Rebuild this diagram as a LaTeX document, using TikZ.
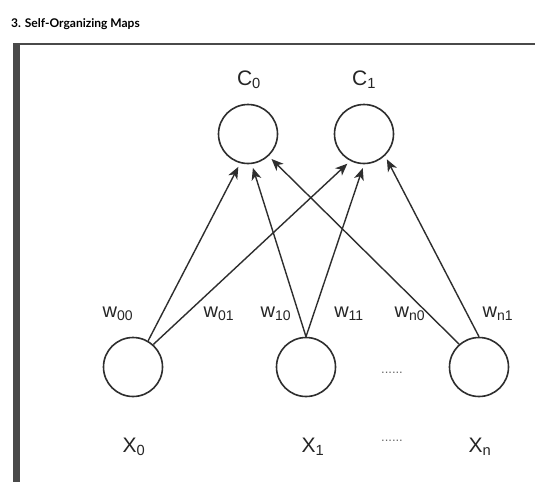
\documentclass[tikz,border=0pt]{standalone}
\usepackage{fontspec}
\setmainfont{Liberation Sans}
\newfontfamily\titlefont{Lato}
\usetikzlibrary{arrows.meta}
\definecolor{linec}{HTML}{2E2E2E}
\definecolor{textc}{HTML}{262626}
\definecolor{barc}{HTML}{4A4A4A}
\begin{document}
\begin{tikzpicture}[x=1pt,y=-1pt,
  neuron/.style={circle,draw=linec,line width=1.6pt,minimum size=59pt,inner sep=0pt},
  conn/.style={draw=linec,line width=1.4pt,-{Stealth[length=12pt,width=10pt,inset=3.5pt]},shorten >=4pt},
  lbl/.style={anchor=base,font=\fontsize{21}{24}\selectfont,text=textc,inner sep=0pt},
  wlbl/.style={anchor=base,font=\fontsize{20}{23}\selectfont,text=textc,inner sep=0pt},
  dotlbl/.style={anchor=base,font=\fontsize{13}{16}\selectfont,text=textc!70,inner sep=0pt}]
\useasboundingbox (0,0) rectangle (535,491);
\fill[white] (0,0) rectangle (535,491);
% page frame pieces
\fill[barc] (13,44) rectangle (20,482);
\draw[barc,line width=2pt] (13,44) -- (535,44);
\node[anchor=base west,inner sep=0pt,font=\titlefont\bfseries\fontsize{12}{14}\selectfont,text=black] (title) at (11,27) {3. Self-Organizing Maps};
% neurons
\node[neuron] (C0) at (248,134) {};
\node[neuron] (C1) at (364,134) {};
\node[neuron] (X0) at (133,367) {};
\node[neuron] (X1) at (306,367) {};
\node[neuron] (Xn) at (479,367) {};
% labels
\node[lbl] (lC0) at (249,85) {C\textsubscript{0}};
\node[lbl] (lC1) at (364,85) {C\textsubscript{1}};
\node[lbl] (lX0) at (134,452) {X\textsubscript{0}};
\node[lbl] (lX1) at (313,452) {X\textsubscript{1}};
\node[lbl] (lXn) at (480,452) {X\textsubscript{n}};
\node[dotlbl] (d1) at (392,373) {......};
\node[dotlbl] (d2) at (392,441) {......};
% weights
\node[wlbl] (w00) at (118,317) {w\textsubscript{00}};
\node[wlbl] (w01) at (219,317) {w\textsubscript{01}};
\node[wlbl] (w10) at (276,317) {w\textsubscript{10}};
\node[wlbl] (w11) at (349,317) {w\textsubscript{11}};
\node[wlbl] (wn0) at (410,317) {w\textsubscript{n0}};
\node[wlbl] (wn1) at (498,317) {w\textsubscript{n1}};
% connections
\draw[conn] (X0.60) -- (C0.-105);
\draw[conn] (X0.48) -- (C1.-117);
\draw[conn] (X1.90) -- (C0.-83);
\draw[conn] (X1.90) -- (C1.-90);
\draw[conn] (Xn.131) -- (C0.-47);
\draw[conn] (Xn.90) -- (C1.-46);
\end{tikzpicture}
\end{document}
